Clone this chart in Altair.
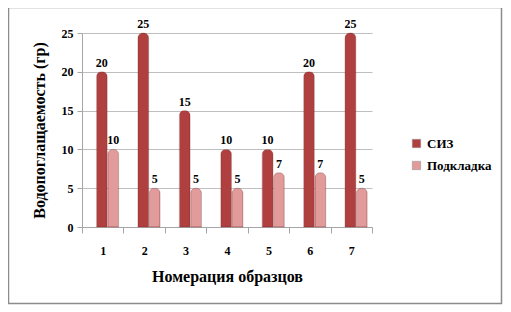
import altair as alt
import pandas as pd

categories = ["1", "2", "3", "4", "5", "6", "7"]
siz = [20, 25, 15, 10, 10, 20, 25]
podkladka = [10, 5, 5, 5, 7, 7, 5]
series = ["СИЗ", "Подкладка"]
colors = ["#B0403F", "#E29B9B"]

rows = []
for i, c in enumerate(categories):
    rows.append({"cat": c, "series": series[0], "value": siz[i]})
    rows.append({"cat": c, "series": series[1], "value": podkladka[i]})
df = pd.DataFrame(rows)

FONT = "Liberation Serif"
W, H = 290, 194

x = alt.X("cat:N", sort=categories,
          scale=alt.Scale(paddingInner=0, paddingOuter=0),
          axis=alt.Axis(title="Номерация образцов", labelAngle=0, tickBand="extent",
                        labelFont=FONT, labelFontWeight="bold", labelFontSize=12,
                        labelColor="black", labelPadding=12,
                        titleFont=FONT, titleFontWeight="bold", titleFontSize=16,
                        titleColor="black", titlePadding=12,
                        domainColor="#A6A6A6", tickColor="#A6A6A6", tickSize=6, grid=False))
y = alt.Y("value:Q", scale=alt.Scale(domain=[0, 25]),
          axis=alt.Axis(title="Водопоглащаемость (гр)", values=[0, 5, 10, 15, 20, 25],
                        labelFont=FONT, labelFontWeight="bold", labelFontSize=12,
                        labelColor="black", labelPadding=4,
                        titleFont=FONT, titleFontWeight="bold", titleFontSize=16,
                        titleColor="black", titlePadding=14,
                        domainColor="#A6A6A6", tickColor="#A6A6A6", tickSize=5,
                        gridColor="#BFBFBF", gridWidth=1))
xoff = alt.XOffset("series:N", sort=series,
                   scale=alt.Scale(paddingInner=0.05, paddingOuter=0.85, align=0.75))
color = alt.Color("series:N", sort=series,
                  scale=alt.Scale(domain=series, range=colors),
                  legend=alt.Legend(title=None, orient="none", legendX=328, legendY=104,
                                    symbolType="square", symbolSize=70,
                                    symbolStrokeColor="#8A8A8A", symbolStrokeWidth=0.5,
                                    labelFont=FONT, labelFontWeight="bold",
                                    labelFontSize=13, labelColor="black",
                                    rowPadding=8))

base = alt.Chart(df)
bars = base.mark_bar(cornerRadiusTopLeft=5, cornerRadiusTopRight=5,
                     stroke="#7A2A2A", strokeWidth=0.3).encode(
    x=x, y=y, xOffset=xoff, color=color)
labels = base.mark_text(dy=-9, font=FONT, fontWeight="bold", fontSize=12,
                        color="black").encode(
    x=x, y=y, xOffset=xoff, text="value:Q")

frame = alt.Chart(pd.DataFrame({"a": [0]})).mark_rect(
    fill=None, stroke="#8C8C8C", strokeWidth=1.5).encode(
    x=alt.value(-73.5), x2=alt.value(419.5), y=alt.value(-25.5), y2=alt.value(270.5))

chart = alt.layer(frame, bars, labels).properties(
    width=W, height=H,
    autosize=alt.AutoSizeParams(type="none"),
    padding={"left": 74, "top": 25, "right": 131, "bottom": 80},
).configure(background="white", font=FONT).configure_view(stroke=None)

chart.save("out.html", embed_options={"renderer": "svg", "actions": False})
